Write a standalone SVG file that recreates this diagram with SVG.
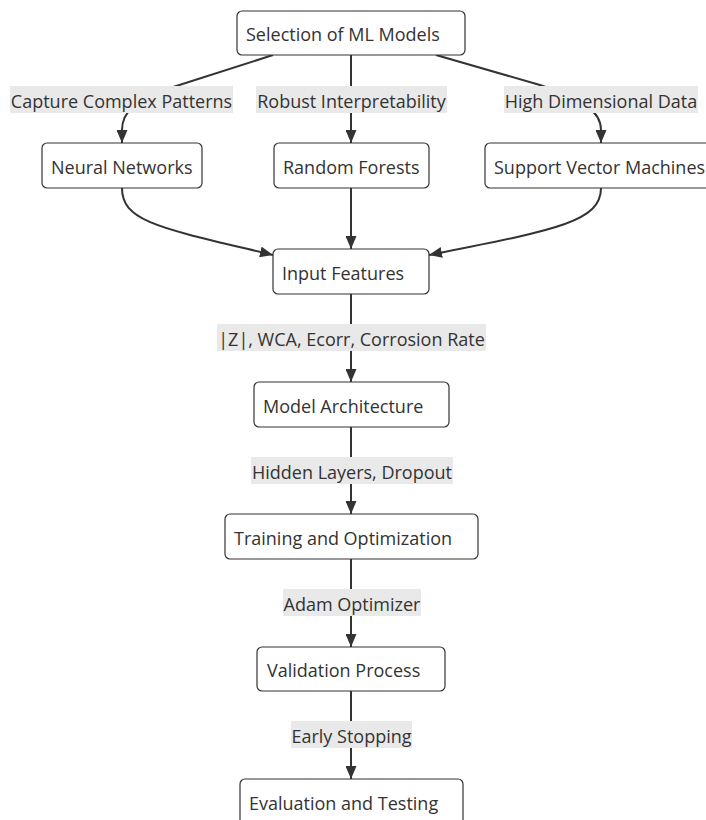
<svg xmlns="http://www.w3.org/2000/svg" width="706" height="820" viewBox="0 0 706 820">
<defs>
<style>
.node rect{fill:#ffffff;stroke:#333333;stroke-width:1.2}
text{font-family:"Open Sans","Noto Sans","DejaVu Sans",sans-serif;font-size:18px;fill:#333333}
.edge{fill:none;stroke:#333333;stroke-width:2}
.lbl rect{fill:#e9e9e9}
.lbl text{text-anchor:middle}
</style>
<marker id="arr" viewBox="0 0 13 11" refX="13" refY="5.5" markerWidth="13" markerHeight="11" markerUnits="userSpaceOnUse" orient="auto">
<path d="M0,0 L13,5.5 L0,11 z" fill="#333333"/>
</marker>
</defs>
<rect x="0" y="0" width="706" height="820" fill="#ffffff"/>

<g id="connectors">
<path class="edge" d="M273,55 L170,88 C135,100 122,112 122,130 L122,143" marker-end="url(#arr)"/>
<path class="edge" d="M351,55 L351,143" marker-end="url(#arr)"/>
<path class="edge" d="M436,55 L540,85 C585,100 601,112 601,130 L601,143" marker-end="url(#arr)"/>
<path class="edge" d="M122,188 C122,222 160,228 273,255" marker-end="url(#arr)"/>
<path class="edge" d="M351,188 L351,249" marker-end="url(#arr)"/>
<path class="edge" d="M601,188 C601,222 555,230 429,255" marker-end="url(#arr)"/>
<path class="edge" d="M351,294 L351,382" marker-end="url(#arr)"/>
<path class="edge" d="M351,427 L351,514" marker-end="url(#arr)"/>
<path class="edge" d="M351,559 L351,647" marker-end="url(#arr)"/>
<path class="edge" d="M351,691 L351,779" marker-end="url(#arr)"/>
</g>

<g id="edge-labels">
<g class="lbl" id="lbl-capture"><rect x="10" y="86" width="223" height="27"/><text x="121.5" y="107.5">Capture Complex Patterns</text></g>
<g class="lbl" id="lbl-robust"><rect x="256" y="86" width="191" height="27"/><text x="351.5" y="107.5">Robust Interpretability</text></g>
<g class="lbl" id="lbl-high"><rect x="504" y="86" width="194" height="27"/><text x="601" y="107.5">High Dimensional Data</text></g>
<g class="lbl" id="lbl-features"><rect x="217" y="324" width="269" height="27"/><text x="351.5" y="345.5">|Z|, WCA, Ecorr, Corrosion Rate</text></g>
<g class="lbl" id="lbl-hidden"><rect x="251" y="457" width="202" height="27"/><text x="352" y="478.5">Hidden Layers, Dropout</text></g>
<g class="lbl" id="lbl-adam"><rect x="283" y="589" width="138" height="27"/><text x="352" y="610.5">Adam Optimizer</text></g>
<g class="lbl" id="lbl-early"><rect x="291" y="721" width="121" height="27"/><text x="351.5" y="742.5">Early Stopping</text></g>
</g>

<g class="node" id="node-selection"><rect x="237" y="11" width="228" height="44" rx="5"/><text x="246" y="41">Selection of ML Models</text></g>
<g class="node" id="node-nn"><rect x="42" y="143" width="160" height="45" rx="5"/><text x="51" y="173.5">Neural Networks</text></g>
<g class="node" id="node-rf"><rect x="274" y="143" width="155" height="45" rx="5"/><text x="283" y="173.5">Random Forests</text></g>
<g class="node" id="node-svm"><rect x="485" y="143" width="232" height="45" rx="5"/><text x="494" y="173.5">Support Vector Machines</text></g>
<g class="node" id="node-input"><rect x="273" y="249" width="156" height="45" rx="5"/><text x="282" y="279.5">Input Features</text></g>
<g class="node" id="node-arch"><rect x="254" y="382" width="195" height="45" rx="5"/><text x="263" y="412.5">Model Architecture</text></g>
<g class="node" id="node-train"><rect x="225" y="514" width="253" height="45" rx="5"/><text x="234" y="544.5">Training and Optimization</text></g>
<g class="node" id="node-valid"><rect x="257" y="647" width="188" height="44" rx="5"/><text x="267" y="677">Validation Process</text></g>
<g class="node" id="node-eval"><rect x="240" y="779" width="223" height="50" rx="5"/><text x="249" y="809.5">Evaluation and Testing</text></g>
</svg>
